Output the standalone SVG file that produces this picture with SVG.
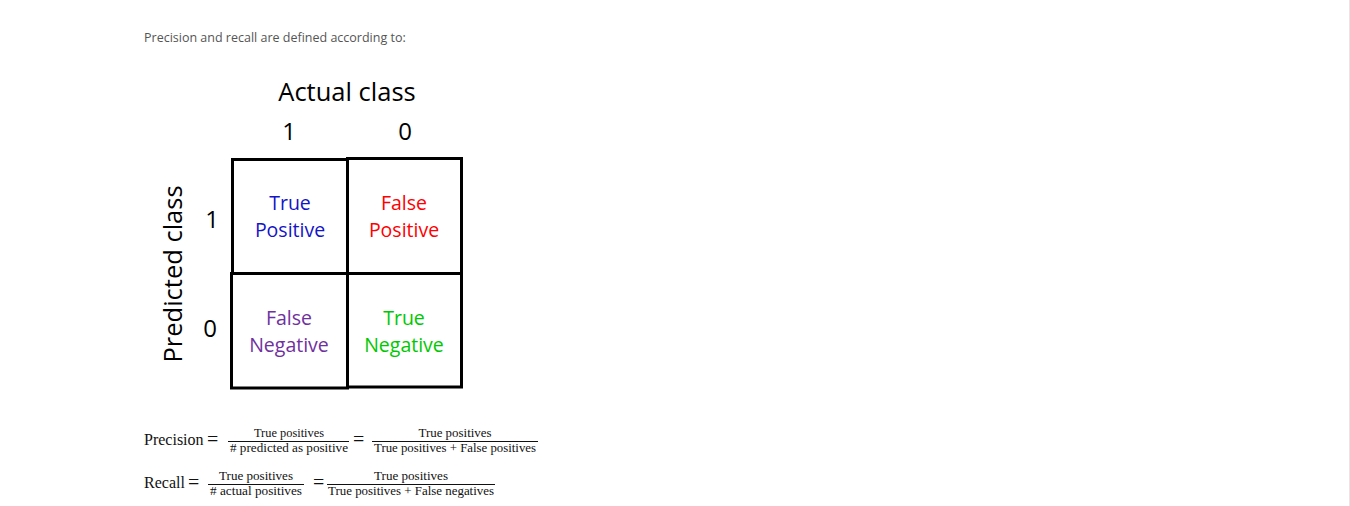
<svg xmlns="http://www.w3.org/2000/svg" width="1350" height="506" viewBox="0 0 1350 506">
<style>
.intro{font-family:"Open Sans","Liberation Sans",sans-serif;font-size:12.5px;fill:#555}
.lab{font-family:"Open Sans","Liberation Sans",sans-serif;fill:#000}
.big{font-size:25.5px}
.num{font-size:24px}
.cell{fill:#fff;stroke:#000;stroke-width:3}
.ct{font-family:"Open Sans","Liberation Sans",sans-serif;font-size:19.5px;text-anchor:middle}
.m{font-family:"Liberation Serif","DejaVu Serif",serif;fill:#111}
.mb{font-size:16px}
.eq{font-size:20px}
.ms{font-size:11.5px;text-anchor:middle}
.fl{stroke:#111;stroke-width:1}
</style>
<rect x="0" y="0" width="1350" height="506" fill="#fff"/>
<line x1="1349.5" y1="0" x2="1349.5" y2="506" stroke="#e6e6e6" stroke-width="1"/>

<text class="intro" x="144" y="42">Precision and recall are defined according to:</text>

<g id="axis-actual">
<text class="lab big" x="347" y="101" text-anchor="middle">Actual class</text>
<text class="lab num" x="289" y="140" text-anchor="middle">1</text>
<text class="lab num" x="405" y="140" text-anchor="middle">0</text>
</g>

<g id="axis-predicted">
<text class="lab big" transform="translate(182,274) rotate(-90)" text-anchor="middle">Predicted class</text>
<text class="lab num" x="212" y="228" text-anchor="middle">1</text>
<text class="lab num" x="210" y="337" text-anchor="middle">0</text>
</g>

<g id="cell-tp">
<rect class="cell" x="232.5" y="159.5" width="115" height="114"/>
<text class="ct" x="290" y="210" fill="#1414c8">True</text>
<text class="ct" x="290" y="237" fill="#1414c8">Positive</text>
</g>
<g id="cell-fp">
<rect class="cell" x="347.5" y="158.5" width="114" height="115"/>
<text class="ct" x="404" y="210" fill="#ff0000">False</text>
<text class="ct" x="404" y="237" fill="#ff0000">Positive</text>
</g>
<g id="cell-fn">
<rect class="cell" x="231.5" y="273.5" width="116" height="114.5"/>
<text class="ct" x="289" y="325" fill="#7030a0">False</text>
<text class="ct" x="289" y="352" fill="#7030a0">Negative</text>
</g>
<g id="cell-tn">
<rect class="cell" x="347.5" y="273.5" width="114" height="113.5"/>
<text class="ct" x="404" y="325" fill="#00c800">True</text>
<text class="ct" x="404" y="352" fill="#00c800">Negative</text>
</g>

<g id="precision">
<text class="m mb" x="144" y="445">Precision</text>
<text class="m eq" x="207" y="446">=</text>
<text class="m ms" x="289" y="437" textLength="70" lengthAdjust="spacingAndGlyphs">True positives</text>
<line class="fl" x1="228" y1="441.5" x2="349" y2="441.5"/>
<text class="m ms" x="289" y="452" textLength="118" lengthAdjust="spacingAndGlyphs"># predicted as positive</text>
<text class="m eq" x="353" y="446">=</text>
<text class="m ms" x="455" y="437" textLength="73" lengthAdjust="spacingAndGlyphs">True positives</text>
<line class="fl" x1="372" y1="441.5" x2="538" y2="441.5"/>
<text class="m ms" x="455" y="452" textLength="162" lengthAdjust="spacingAndGlyphs">True positives + False positives</text>
</g>

<g id="recall">
<text class="m mb" x="144" y="488">Recall</text>
<text class="m eq" x="188" y="489">=</text>
<text class="m ms" x="256" y="480" textLength="74" lengthAdjust="spacingAndGlyphs">True positives</text>
<line class="fl" x1="208" y1="484.5" x2="304" y2="484.5"/>
<text class="m ms" x="256" y="495" textLength="92" lengthAdjust="spacingAndGlyphs"># actual positives</text>
<text class="m eq" x="313" y="489">=</text>
<text class="m ms" x="411" y="480" textLength="74" lengthAdjust="spacingAndGlyphs">True positives</text>
<line class="fl" x1="327" y1="484.5" x2="495" y2="484.5"/>
<text class="m ms" x="411" y="495" textLength="166" lengthAdjust="spacingAndGlyphs">True positives + False negatives</text>
</g>
</svg>
